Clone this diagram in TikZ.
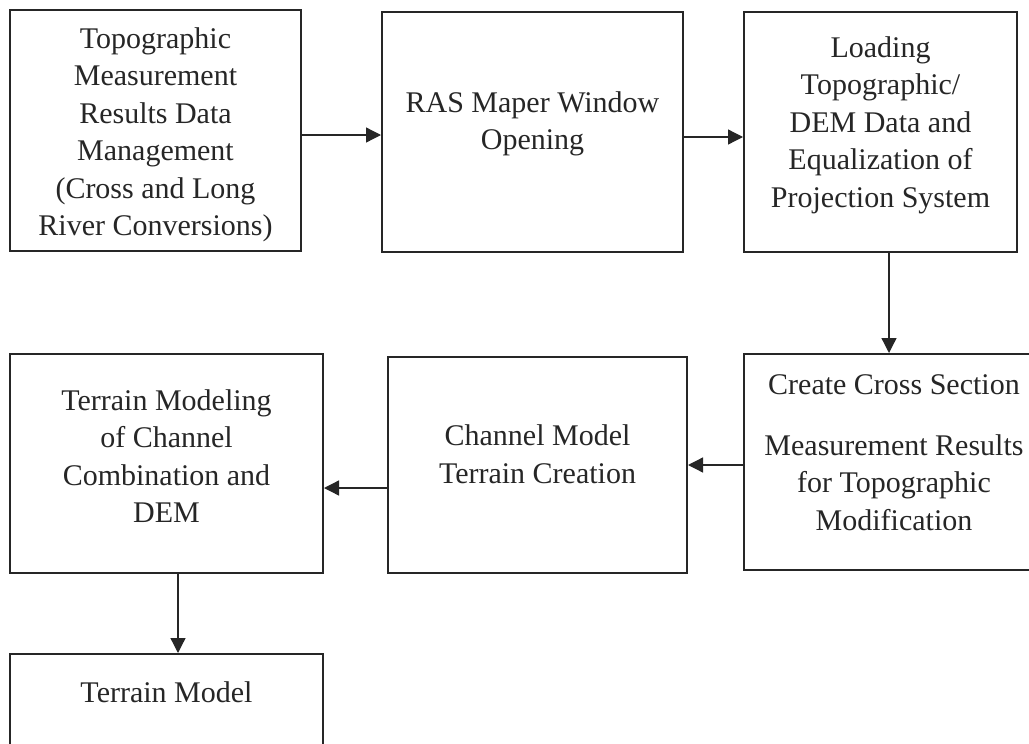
\documentclass[tikz,border=0pt]{standalone}
\usepackage{fontspec}
\setmainfont{Liberation Serif}
\usetikzlibrary{arrows.meta}
\begin{document}
\begin{tikzpicture}[x=1pt,y=-1pt,
  box/.style={draw=black!85,line width=2pt,outer sep=1pt,inner sep=0pt},
  txt/.style={align=center,inner sep=0pt,text=black!85,font=\fontsize{30}{37.5}\selectfont},
  flow/.style={draw=black!85,line width=1.3pt,-{Triangle[length=15pt,width=15pt]}}]

\useasboundingbox (0,0) rectangle (1029,744);
\clip (0,0) rectangle (1029,744);

% top row
\node[box,minimum width=291pt,minimum height=241pt] (topo) at (155.5,130.5) {};
\node[box,minimum width=301pt,minimum height=240pt] (ras) at (532.5,132) {};
\node[box,minimum width=273pt,minimum height=240pt] (load) at (880.5,132) {};

% middle row
\node[box,minimum width=300pt,minimum height=216pt] (cross) at (894,462) {};
\node[box,minimum width=299pt,minimum height=216pt] (chan) at (537.5,465) {};
\node[box,minimum width=313pt,minimum height=219pt] (comb) at (166.5,463.5) {};

% bottom
\node[box,minimum width=313pt,minimum height=218pt] (terr) at (166.5,763) {};

% texts
\node[txt] (topo-t) at (155.5,135) {Topographic\\Measurement\\Results Data\\Management\\(Cross and Long\\River Conversions)};
\node[txt] (ras-t) at (532.5,124) {RAS Maper Window\\Opening};
\node[txt] (load-t) at (880.5,125) {Loading\\Topographic/\\DEM Data and\\Equalization of\\Projection System};
\node[txt] (cross-t) at (894,452.5) {Create Cross Section\\[23pt]Measurement Results\\for Topographic\\Modification};
\node[txt] (chan-t) at (537.5,454) {Channel Model\\Terrain Creation};
\node[txt] (comb-t) at (166.5,456) {Terrain Modeling\\of Channel\\Combination and\\DEM};
\node[txt] (terr-t) at (166.5,692) {Terrain Model};

% arrows
\draw[flow] ([yshift=-4.5pt]topo.east) -- ([yshift=-4.5pt]topo.east -| ras.west);
\draw[flow] ([yshift=-5pt]ras.east) -- ([yshift=-5pt]ras.east -| load.west);
\draw[flow] ([xshift=8.5pt]load.south) -- ([xshift=8.5pt]load.south |- cross.north);
\draw[flow] (cross.west |- chan.east) -- (chan.east);
\draw[flow] ([yshift=-23pt]chan.west) -- ([yshift=-23pt]chan.west -| comb.east);
\draw[flow] ([xshift=11.5pt]comb.south) -- ([xshift=11.5pt]comb.south |- terr.north);

\end{tikzpicture}
\end{document}
